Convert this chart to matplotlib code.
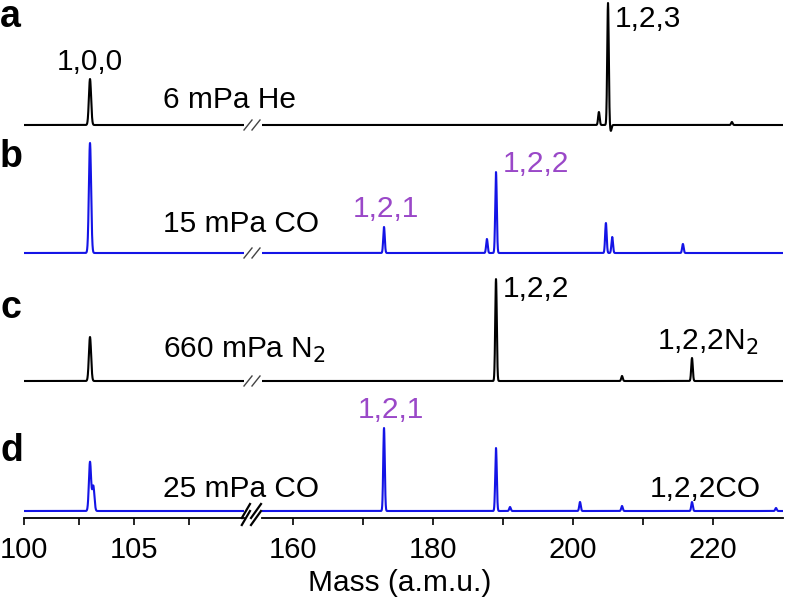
import numpy as np
import matplotlib
matplotlib.use("Agg")
import matplotlib.pyplot as plt
import matplotlib.transforms as mtrans

plt.rcParams['font.family'] = ['Liberation Sans', 'DejaVu Sans']

# peak lists: (mass, height above baseline)
peaks_a = [(103.0, 46), (203.7, 13), (205.0, 122), (205.4, -6), (222.7, 3)]
peaks_b = [(103.0, 110), (173.0, 26), (187.7, 14), (189.0, 81),
           (204.7, 30), (205.6, 16), (215.7, 9)]
peaks_c = [(103.0, 44), (189.0, 102), (207.0, 5), (217.0, 23)]
peaks_d = [(103.0, 49), (103.15, 25), (173.0, 83), (189.0, 63), (191.0, 4),
           (201.0, 9), (207.0, 5), (217.0, 9), (229.0, 3)]

baselines = [393, 265, 137, 7]
colors = ['black', '#1414e6', 'black', '#1414e6']
traces = [peaks_a, peaks_b, peaks_c, peaks_d]

left_lim = (100, 110)
right_lim = (155.57, 230)
left_major = [100, 105]
left_minor = [102.5, 107.5]
right_major = [160, 180, 200, 220]
right_minor = [170, 190, 210]


def spectrum(peaks, m, width):
    y = np.zeros_like(m)
    for m0, h in peaks:
        y += h * np.exp(-0.5 * ((m - m0) / width) ** 2)
    return y


fig = plt.figure(figsize=(7.86, 6.15), dpi=100)
W, H = 786, 615
ybot = 518
axL = fig.add_axes([24 / W, (H - ybot) / H, 220 / W, ybot / H])
axR = fig.add_axes([262 / W, (H - ybot) / H, 521 / W, ybot / H])

mL = np.linspace(left_lim[0], left_lim[1], 3000)
mR = np.linspace(right_lim[0], right_lim[1], 6000)

for pk, base, col in zip(traces, baselines, colors):
    axL.plot(mL, base + spectrum(pk, mL, 0.05), color=col, lw=1.5)
    axR.plot(mR, base + spectrum(pk, mR, 0.11), color=col, lw=1.5)

for ax, lim, maj, mnr in [(axL, left_lim, left_major, left_minor),
                          (axR, right_lim, right_major, right_minor)]:
    ax.set_xlim(*lim)
    ax.set_ylim(0, ybot)
    for s in ['top', 'left', 'right']:
        ax.spines[s].set_visible(False)
    ax.spines['bottom'].set_linewidth(1.3)
    ax.set_yticks([])
    ax.set_xticks(maj)
    ax.set_xticks(mnr, minor=True)
    ax.tick_params(axis='x', which='both', direction='out', length=5,
                   width=1.2, labelsize=21, pad=8)
    ax.patch.set_visible(False)

# break marks on each trace and on the axis
tL = mtrans.blended_transform_factory(axL.transAxes, axL.transData)
tR = mtrans.blended_transform_factory(axR.transAxes, axR.transData)
for base in baselines[:3]:
    axL.plot([1.0, 1.0 + 8 / 220], [base - 5, base + 5], color='#444444',
             lw=1.0, clip_on=False, transform=tL)
    axR.plot([-10 / 521, -2 / 521], [base - 5, base + 5], color='#444444',
             lw=1.0, clip_on=False, transform=tR)
for yb in [0, baselines[3]]:
    axL.plot([0.99, 1.0 + 6 / 220], [yb - 7, yb + 7], color='black', lw=1.6,
             clip_on=False, transform=tL)
    axR.plot([-11 / 521, -1 / 521], [yb - 7, yb + 7], color='black', lw=1.6,
             clip_on=False, transform=tR)

purple = '#9a48c8'
fs = 21.5
axL.text(103.0, 448, '1,0,0', ha='center', va='baseline', fontsize=fs, clip_on=False)
axL.text(106.3, 410, '6 mPa He', ha='left', va='baseline', fontsize=fs, clip_on=False)
axL.text(106.3, 286, '15 mPa CO', ha='left', va='baseline', fontsize=fs, clip_on=False)
axL.text(106.3, 160, '660 mPa N$_2$', ha='left', va='baseline', fontsize=fs, clip_on=False)
axL.text(106.3, 21, '25 mPa CO', ha='left', va='baseline', fontsize=fs, clip_on=False)

axR.text(206.0, 491, '1,2,3', ha='left', va='baseline', fontsize=fs)
axR.text(173.3, 301, '1,2,1', ha='center', va='baseline', fontsize=fs, color=purple)
axR.text(190.0, 346, '1,2,2', ha='left', va='baseline', fontsize=fs, color=purple)
axR.text(190.0, 221, '1,2,2', ha='left', va='baseline', fontsize=fs)
axR.text(212.0, 168, '1,2,2N$_2$', ha='left', va='baseline', fontsize=fs)
axR.text(174.0, 100, '1,2,1', ha='center', va='baseline', fontsize=fs, color=purple)
axR.text(211.0, 21, '1,2,2CO', ha='left', va='baseline', fontsize=fs)

for letter, ypx in zip('abcd', [27, 167, 318, 461]):
    fig.text(0.0, (H - ypx) / H, letter, fontsize=27, fontweight='bold',
             ha='left', va='baseline')

fig.text(400 / W, 24 / H, 'Mass (a.m.u.)', ha='center', va='baseline', fontsize=fs)

fig.savefig('out.png', dpi=100)
